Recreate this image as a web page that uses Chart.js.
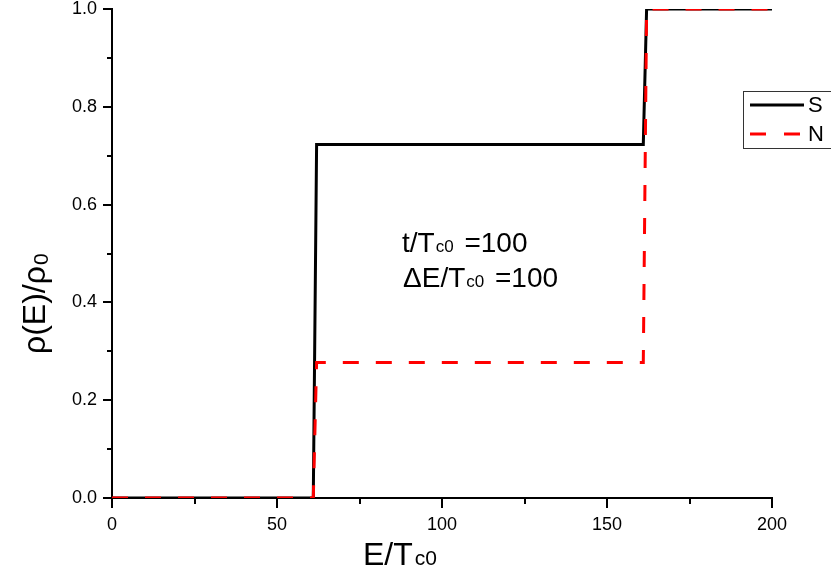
<!DOCTYPE html>
<html>
<head>
<meta charset="utf-8">
<script src="https://cdn.jsdelivr.net/npm/chart.js@4.4.1/dist/chart.umd.min.js"></script>
<style>
  html, body { margin: 0; padding: 0; background: #fff; }
  #wrap { width: 831px; height: 577px; position: relative; }
</style>
</head>
<body>
<div id="wrap"><canvas id="chart"></canvas></div>
<script>
// data
const energy = [0, 61, 62, 161, 162, 200];
const sValues = [0, 0, 0.723, 0.723, 1, 1];
const nValues = [0, 0, 0.277, 0.277, 1, 1];
const seriesNames = ['S', 'N'];
const xTicks = [0, 50, 100, 150, 200];
const xMinorTicks = [25, 75, 125, 175];
const yTicks = [0, 0.2, 0.4, 0.6, 0.8, 1.0];
const yMinorTicks = [0.1, 0.3, 0.5, 0.7, 0.9];

const FONT = '"Liberation Sans", Arial, sans-serif';

const toPoints = vals => energy.map((e, i) => ({ x: e, y: vals[i] }));

// draw text with a lowered, smaller subscript part
function subText(ctx, x, y, parts) {
  let cx = x;
  parts.forEach(p => {
    ctx.font = p.size + 'px ' + FONT;
    ctx.fillText(p.t, cx, y + (p.dy || 0));
    cx += ctx.measureText(p.t).width + (p.gap || 0);
  });
}

const extras = {
  id: 'extras',
  afterDraw(chart) {
    const ctx = chart.ctx;
    const xs = chart.scales.x, ys = chart.scales.y;
    ctx.save();
    ctx.strokeStyle = '#000';
    ctx.lineWidth = 2;
    // minor ticks
    ctx.beginPath();
    xMinorTicks.forEach(v => {
      const px = Math.round(xs.getPixelForValue(v));
      ctx.moveTo(px, ys.bottom);
      ctx.lineTo(px, ys.bottom + 6);
    });
    yMinorTicks.forEach(v => {
      const py = Math.round(ys.getPixelForValue(v));
      ctx.moveTo(xs.left, py);
      ctx.lineTo(xs.left - 5, py);
    });
    ctx.stroke();

    ctx.fillStyle = '#000';
    ctx.textBaseline = 'alphabetic';
    ctx.textAlign = 'left';

    // x title
    subText(ctx, 363, 565, [{ t: 'E/T', size: 32, gap: 2 }, { t: 'c0', size: 21 }]);

    // y title (rotated)
    ctx.save();
    ctx.translate(45, 354);
    ctx.rotate(-Math.PI / 2);
    subText(ctx, 0, 0, [{ t: 'ρ(E)/ρ', size: 32, gap: 1 }, { t: '0', size: 21, dy: 3 }]);
    ctx.restore();

    // annotation
    subText(ctx, 402, 252, [{ t: 't/T', size: 28, gap: 1 }, { t: 'c0', size: 17, gap: 3 }, { t: ' =100', size: 28 }]);
    subText(ctx, 403, 287, [{ t: 'ΔE/T', size: 28, gap: 1 }, { t: 'c0', size: 17, gap: 3 }, { t: ' =100', size: 28 }]);

    // legend box
    ctx.lineWidth = 1;
    ctx.strokeStyle = '#333';
    ctx.strokeRect(743.5, 91.5, 100, 57);
    ctx.lineWidth = 3;
    ctx.strokeStyle = '#000';
    ctx.beginPath();
    ctx.moveTo(750, 105);
    ctx.lineTo(804, 105);
    ctx.stroke();
    ctx.strokeStyle = '#ff0000';
    ctx.setLineDash([16, 18]);
    ctx.beginPath();
    ctx.moveTo(750, 134);
    ctx.lineTo(804, 134);
    ctx.stroke();
    ctx.setLineDash([]);
    ctx.font = '22px ' + FONT;
    ctx.textBaseline = 'middle';
    ctx.fillText(seriesNames[0], 808, 106);
    ctx.fillText(seriesNames[1], 808, 135);
    ctx.restore();
  }
};

new Chart(document.getElementById('chart'), {
  type: 'line',
  data: {
    datasets: [
      {
        label: seriesNames[0],
        data: toPoints(sValues),
        borderColor: '#000',
        borderWidth: 3,
        pointRadius: 0,
        tension: 0,
        order: 1
      },
      {
        label: seriesNames[1],
        data: toPoints(nValues),
        borderColor: '#ff0000',
        borderWidth: 3,
        borderDash: [16, 17],
        pointRadius: 0,
        tension: 0,
        order: 0
      }
    ]
  },
  options: {
    responsive: true,
    maintainAspectRatio: false,
    animation: false,
    layout: { padding: { top: 9, right: 59, left: 0, bottom: 0 } },
    plugins: { legend: { display: false }, tooltip: { enabled: false } },
    scales: {
      x: {
        type: 'linear',
        min: 0,
        max: 200,
        afterBuildTicks: s => { s.ticks = xTicks.map(v => ({ value: v })); },
        afterFit: s => { s.height = 79; s.paddingLeft = 0; s.paddingRight = 0; },
        border: { display: true, color: '#000', width: 2 },
        grid: { drawOnChartArea: false, color: '#000', lineWidth: 2, tickLength: 10 },
        ticks: {
          color: '#000',
          padding: 8,
          maxRotation: 0,
          font: { family: FONT, size: 18, lineHeight: 1 },
          callback: v => String(v)
        }
      },
      y: {
        min: 0,
        max: 1,
        afterBuildTicks: s => { s.ticks = yTicks.map(v => ({ value: v })); },
        afterFit: s => { s.width = 112; s.paddingTop = 0; s.paddingBottom = 0; },
        border: { display: true, color: '#000', width: 2 },
        grid: { drawOnChartArea: false, color: '#000', lineWidth: 2, tickLength: 9 },
        ticks: {
          color: '#000',
          padding: 6,
          font: { family: FONT, size: 18, lineHeight: 1 },
          callback: v => Number(v).toFixed(1)
        }
      }
    }
  },
  plugins: [extras]
});
</script>
</body>
</html>
